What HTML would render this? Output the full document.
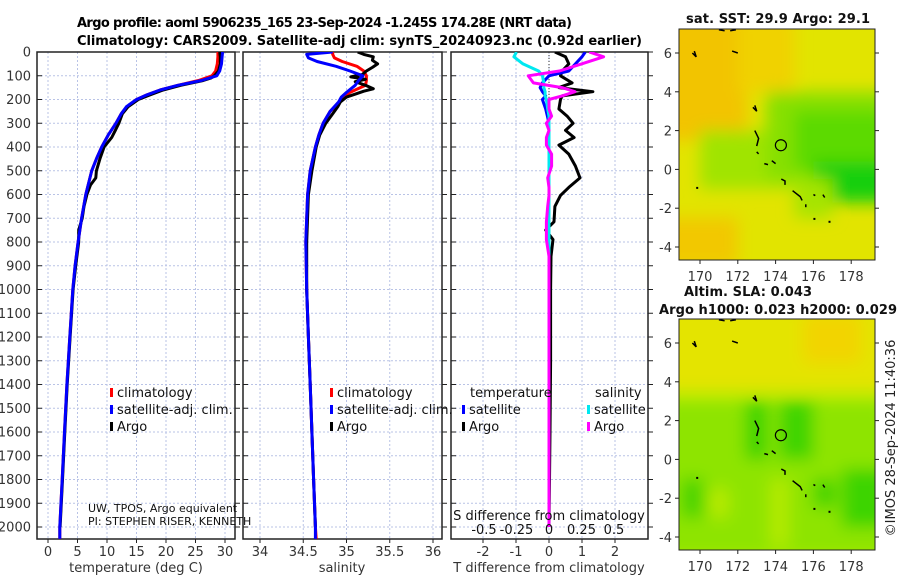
<!DOCTYPE html>
<html><head><meta charset="utf-8"><style>
html,body{margin:0;padding:0;background:#fff;}
svg{display:block;font-family:"DejaVu Sans","Liberation Sans",sans-serif;}
</style></head><body>
<svg id="fig" width="900" height="580" viewBox="0 0 900 580" xmlns="http://www.w3.org/2000/svg">
<defs>
<filter id="blur1" x="-50%" y="-50%" width="200%" height="200%"><feGaussianBlur stdDeviation="8"/></filter>
<clipPath id="clipMap1"><rect x="679" y="29" width="196" height="231"/></clipPath>
<clipPath id="clipMap2"><rect x="679" y="319" width="196" height="231"/></clipPath>
<clipPath id="clipP1"><rect x="37" y="52" width="198" height="487"/></clipPath>
<clipPath id="clipP2"><rect x="243" y="52" width="199" height="487"/></clipPath>
<clipPath id="clipP3"><rect x="451" y="52" width="197" height="487"/></clipPath>
</defs>
<text x="77" y="27" font-size="13" font-weight="bold" textLength="495">Argo profile: aoml 5906235_165 23-Sep-2024 -1.245S 174.28E (NRT data)</text>
<text x="77" y="45" font-size="13" font-weight="bold" textLength="565">Climatology: CARS2009. Satellite-adj clim: synTS_20240923.nc (0.92d earlier)</text>
<g id="layer"></g>
</svg>
<script>
// ---- profile data (depth in m) ----
const tDepth = [0,20,50,80,100,120,140,160,180,200,230,260,300,350,400,450,500,600,700,800,900,1000,1200,1400,1600,1800,2000,2050];
const tClim  = [28.8,28.8,28.7,28.4,27.8,25.5,22,19,16.8,15,13.4,12.4,11.5,10.2,9.1,8.2,7.4,6.4,5.7,5.1,4.6,4.2,3.7,3.2,2.8,2.4,2.0,2.0];
const tSat   = [29.6,29.5,29.4,29.1,28.6,26,22,19,16.8,15,13.3,12.4,11.5,10.2,9.1,8.2,7.4,6.4,5.7,5.1,4.6,4.2,3.7,3.2,2.8,2.4,2.0,2.0];
const argoTDepth = [0,20,50,80,100,110,120,140,160,180,200,230,260,300,330,360,400,450,500,530,560,600,650,700,750,800,900,1000,1200,1400,1600,1800,2000];
const argoT = [29.1,29.2,29.2,28.9,28.2,27.6,26.3,22.5,19.5,17.3,15.3,13.6,12.6,12.0,11.4,10.8,9.5,8.8,8.2,8.1,7.2,6.6,6.1,5.8,5.2,5.2,4.7,4.25,3.75,3.25,2.85,2.45,2.05];
const sDepth = [0,10,25,40,60,80,100,120,140,170,190,210,250,300,350,400,500,600,800,1000,1200,1400,1600,1800,2000,2050];
const sClim  = [34.84,34.84,34.86,34.95,35.12,35.2,35.23,35.23,35.22,35.04,34.96,34.92,34.81,34.73,34.68,34.64,34.58,34.55,34.53,34.54,34.56,34.58,34.6,34.62,34.64,34.65];
const sSat   = [34.84,34.54,34.56,34.66,34.88,35.04,35.19,35.14,35.10,35.0,34.94,34.91,34.81,34.73,34.68,34.64,34.58,34.55,34.53,34.54,34.56,34.58,34.6,34.62,34.64,34.64];
const argoSDepth = [0,10,20,35,50,65,80,95,105,115,125,140,155,165,175,190,210,230,260,300,350,400,500,600,800,1000,1200,1400,1600,1800,2000];
const argoS = [35.13,35.2,35.31,35.3,35.36,35.3,35.23,35.18,35.05,35.22,35.1,35.22,35.31,35.2,35.12,35.0,34.93,34.9,34.84,34.76,34.69,34.65,34.6,34.56,34.54,34.54,34.56,34.58,34.6,34.62,34.64];
// ---- difference data ----
const dDepth = [0,20,50,80,100,130,150,167,185,200,240,270,300,330,360,392,430,480,530,570,604,650,715,750,790,860,1000,1300,1600,2000];
const dTArgo = [0.18,0.5,0.6,0.4,0.35,0.7,0.3,1.33,0.4,0.35,0.3,0.55,0.73,0.5,0.76,0.3,0.6,0.8,0.94,0.6,0.35,0.18,0.15,-0.1,0.12,0.06,0.05,0.05,0.03,0.0];
const dTSat  = [1.1,1.0,0.8,0.6,0.0,-0.2,-0.27,-0.2,-0.1,-0.2,-0.1,-0.05,0,0,0,0,0,0,0,0,0,0,0,0,0,0,0,0,0,0];
const dSSat  = [-0.25,-0.27,-0.2,-0.08,-0.05,-0.04,-0.04,-0.03,-0.03,-0.02,-0.01,0,0,0,0,0,0,0,0,0,0,0,0,0,0,0,0,0,0,0];
const dSArgo = [0.31,0.42,0.25,0.08,-0.16,-0.12,0.1,0.2,0.1,0.0,0.0,0.02,-0.02,0.0,-0.02,-0.02,0.02,0.02,-0.01,0.0,0.0,-0.01,-0.02,-0.02,-0.02,0.0,0.0,0.0,0.0,0.0];
// ---- axis ticks ----
const depthTicks = [0,100,200,300,400,500,600,700,800,900,1000,1100,1200,1300,1400,1500,1600,1700,1800,1900,2000];
const tTicks = [0,5,10,15,20,25,30];
const sTicks = [34,34.5,35,35.5,36];
const sTickLabels = ["34","34.5","35","35.5","36"];
const dTTicks = [-2,-1,0,1,2];
const dSTicks = [-0.5,-0.25,0,0.25,0.5];
const dSTickLabels = ["-0.5","-0.25","0","0.25","0.5"];
const lonTicks = [170,172,174,176,178];
const latTicks = [6,4,2,0,-2,-4];
// ---- float position ----
const floatLon = [174.28];
const floatLat = [1.245];
// ---- map contour squiggles (lon,lat) ----
const coastLon = [[171.0,171.3],[171.6,171.9],[169.6,169.8,169.7],[171.7,172.0],[172.8,173.0,172.9],[172.9,173.1,173.0],[173.0,173.1],[173.4,173.6],[173.8,174.0],[174.3,174.5,174.5],[174.9,175.3,175.4],[175.6,175.6],[176.0,176.1],[176.5,176.6],[169.8],[176.0],[176.8]];
const coastLat = [[7.2,7.15],[7.15,7.2],[6.0,5.8,6.1],[6.1,6.0],[3.2,3.0,3.3],[2.0,1.6,1.2],[0.9,0.8],[0.3,0.25],[0.45,0.3],[-0.5,-0.6,-0.8],[-1.1,-1.4,-1.6],[-1.8,-1.95],[-1.3,-1.35],[-1.3,-1.45],[-0.9],[-2.5],[-2.65]];

const NS="http://www.w3.org/2000/svg";
const L=document.getElementById('layer');
function mk(tag,attrs,parent,txt){const e=document.createElementNS(NS,tag);for(const k in attrs)e.setAttribute(k,attrs[k]);if(txt!==undefined)e.textContent=txt;(parent||L).appendChild(e);return e;}
const depthTop=52, depthScale=23.75/100;
const yD=d=>depthTop+d*depthScale;
const FT=52, FH=487;
const P1={x0:37,x1:235};
const P2={x0:243,x1:442};
const P3={x0:451,x1:648};
const xT=v=>48+v*5.9;
const xS=v=>260+(v-34)*86.5;
const xDT=v=>549+v*33;
const xDS=v=>549+v*130;
const gridC="#b9c3e6";

function panel(P,xTickVals,xTickLbl,xf,name,xlabel,cx){
  const g=mk('g',{});
  
  
  depthTicks.forEach(d=>{
    const gl=mk('line',{x1:P.x0,x2:P.x1,y1:yD(d),y2:yD(d),stroke:gridC,'stroke-width':1,'stroke-dasharray':'2,2'},g);
    
    
    mk('line',{x1:P.x0,x2:P.x0+5,y1:yD(d),y2:yD(d),stroke:'#222'},g);
    mk('line',{x1:P.x1,x2:P.x1+5,y1:yD(d),y2:yD(d),stroke:'#222'},g);
  });
  xTickVals.forEach((v,i)=>{
    const x=xf(v);
    const gl=mk('line',{x1:x,x2:x,y1:FT,y2:FT+FH,stroke:gridC,'stroke-width':1,'stroke-dasharray':'2,2'},g);
    
    
    mk('line',{x1:x,x2:x,y1:539,y2:543,stroke:'#222'},g);
    const t=mk('text',{x:x,y:556,'font-size':13,'text-anchor':'middle',fill:'#333'},g,xTickLbl[i]);
    
    
  });
  const r=mk('rect',{x:P.x0,y:FT,width:P.x1-P.x0,height:FH,fill:'none',stroke:'#222','stroke-width':1.5},g);
  
  
  const xl=mk('text',{x:cx,y:572,'font-size':13,'text-anchor':'middle',fill:'#333'},g,xlabel);
  
  
  return g;
}
panel(P1,tTicks,tTicks.map(String),xT,'temperature-panel','temperature (deg C)',136);
panel(P2,sTicks,sTickLabels,xS,'salinity-panel','salinity',342);
panel(P3,dTTicks,dTTicks.map(String),xDT,'difference-panel','T difference from climatology',549);
depthTicks.forEach(d=>{
  const t=mk('text',{x:31,y:yD(d)+4.5,'font-size':13,'text-anchor':'end',fill:'#333'},L,String(d));
  
  
});
function line(xs,ds,xf,color,w,clip,name){
  const pts=xs.map((v,i)=>xf(v).toFixed(1)+','+yD(ds[i]).toFixed(1)).join(' ');
  const p=mk('polyline',{points:pts,fill:'none',stroke:color,'stroke-width':w,'stroke-linejoin':'round','clip-path':'url(#'+clip+')'});
  
  
}
line(tClim,tDepth,xT,'#ff0000',3,'clipP1','temp-climatology-line');
line(argoT,argoTDepth,xT,'#000',3,'clipP1','temp-argo-line');
line(tSat,tDepth,xT,'#0000ff',3,'clipP1','temp-satellite-line');
line(sClim,sDepth,xS,'#ff0000',3,'clipP2','sal-climatology-line');
line(argoS,argoSDepth,xS,'#000',3,'clipP2','sal-argo-line');
line(sSat,sDepth,xS,'#0000ff',3,'clipP2','sal-satellite-line');
mk('line',{x1:549,x2:549,y1:52,y2:110,stroke:'#333','stroke-dasharray':'1,2'});
line(dTArgo,dDepth,xDT,'#000',3,'clipP3','tdiff-argo-line');
line(dTSat,dDepth,xDT,'#0000ff',3,'clipP3','tdiff-satellite-line');
line(dSSat,dDepth,xDS,'#00e8f0',3,'clipP3','sdiff-satellite-line');
line(dSArgo,dDepth,xDS,'#ff00ff',3,'clipP3','sdiff-argo-line');

function legendEntry(x,y,color,label,name){
  const g=mk('g',{});
  
  
  mk('rect',{x:x,y:y-9,width:3,height:9,fill:color},g);
  mk('text',{x:x+7,y:y,'font-size':13,fill:'#111'},g,label);
}
legendEntry(110,397,'#ff0000','climatology','legend-t-climatology');
legendEntry(110,414,'#0000ff','satellite-adj. clim.','legend-t-satellite');
legendEntry(110,431,'#000','Argo','legend-t-argo');
legendEntry(330,397,'#ff0000','climatology','legend-s-climatology');
legendEntry(330,414,'#0000ff','satellite-adj. clim.','legend-s-satellite');
legendEntry(330,431,'#000','Argo','legend-s-argo');
let t=mk('text',{x:470,y:397,'font-size':13,fill:'#111'},L,'temperature');

t=mk('text',{x:595,y:397,'font-size':13,fill:'#111'},L,'salinity');

legendEntry(462,414,'#0000ff','satellite','legend-tdiff-satellite');
legendEntry(462,431,'#000','Argo','legend-tdiff-argo');
legendEntry(587,414,'#00e8f0','satellite','legend-sdiff-satellite');
legendEntry(587,431,'#ff00ff','Argo','legend-sdiff-argo');
t=mk('text',{x:88,y:512,'font-size':11,fill:'#111'},L,'UW, TPOS, Argo equivalent');

t=mk('text',{x:88,y:525,'font-size':11,fill:'#111'},L,'PI: STEPHEN RISER, KENNETH');

t=mk('text',{x:549,y:520,'font-size':13,'text-anchor':'middle',fill:'#111'},L,'S difference from climatology');

dSTicks.forEach((v,i)=>{
  const tt=mk('text',{x:xDS(v),y:534,'font-size':13,'text-anchor':'middle',fill:'#111'},L,dSTickLabels[i]);
  
  
});

// ---- maps ----
const mapX=lon=>700+(lon-170)*18.9;
function mapFrame(top,name,blobs,base){
  const bot=top+231;
  const yL=lat=>top+24+(6-lat)*19.4;
  const g=mk('g',{});
  
  
  const cg=mk('g',{'clip-path':'url(#'+(top<100?'clipMap1':'clipMap2')+')'},g);
  mk('rect',{x:679,y:top,width:196,height:231,fill:base},cg);
  const bg=mk('g',{filter:'url(#blur1)'},cg);
  blobs.forEach(b=>{mk('rect',{x:mapX(b[0]),y:yL(b[3]),width:(b[1]-b[0])*18.9,height:(b[3]-b[2])*19.4,fill:b[4]},bg);});
  coastLon.forEach((ln,i)=>{
    const pts=ln.map((lo,j)=>mapX(lo).toFixed(1)+','+yL(coastLat[i][j]).toFixed(1));
    if(pts.length===1){const p=pts[0].split(',');mk('rect',{x:p[0],y:p[1],width:2,height:2,fill:'#000'},cg);}
    else mk('polyline',{points:pts.join(' '),fill:'none',stroke:'#000','stroke-width':1.5},cg);
  });
  const c=mk('circle',{cx:mapX(floatLon[0]),cy:yL(floatLat[0]),r:5.5,fill:'none',stroke:'#000','stroke-width':1.2},g);
  
  
  mk('rect',{x:679,y:top,width:196,height:231,fill:'none',stroke:'#222','stroke-width':1},g);
  lonTicks.forEach(lo=>{
    mk('line',{x1:mapX(lo),x2:mapX(lo),y1:bot,y2:bot+4,stroke:'#222'},g);
    const tt=mk('text',{x:mapX(lo),y:bot+21,'font-size':13,'text-anchor':'middle',fill:'#333'},g,String(lo));
    
    
  });
  latTicks.forEach(la=>{
    mk('line',{x1:675,x2:679,y1:yL(la),y2:yL(la),stroke:'#222'},g);
    mk('line',{x1:875,x2:879,y1:yL(la),y2:yL(la),stroke:'#222'},g);
    const tt=mk('text',{x:672,y:yL(la)+5,'font-size':13,'text-anchor':'end',fill:'#333'},g,String(la));
    
    
  });
}
const blobs1=[[168,172.5,1.5,8,'#f2c400'],[172,175,4,8,'#f0d200'],[168,172,-5,-2.5,'#f2c800'],[170,176,-1,2,'#a0e400'],[173.5,180,-0.5,4,'#86e000'],[175,180,0,3,'#5cda00'],[176,180,-1.7,0.4,'#14cf10'],[175,177,-2.5,-0.5,'#a6e400']];
const blobs2=[[168,180,3.5,8,'#e4e400'],[175.5,178.5,5,7.5,'#f2d400'],[168,180,-5,3,'#8ee400'],[172.4,173.6,0,3,'#3ed400'],[174.2,176,0,3,'#40d400'],[169,170.2,-3,-1,'#48d400'],[176,177.2,-2.5,-1,'#44d400'],[177.5,180,-3.5,-0.5,'#3cd400'],[170.5,171.5,-3,-1.5,'#b8ea00'],[173.7,174.7,-4.5,-1,'#b4ea00']];
mapFrame(29,'sst-map',blobs1,'#e2e400');
mapFrame(319,'sla-map',blobs2,'#b6ec00');
t=mk('text',{x:686,y:23,'font-size':13,'font-weight':'bold',textLength:184,fill:'#111'},L,'sat. SST: 29.9 Argo: 29.1');

t=mk('text',{x:684,y:296,'font-size':13,'font-weight':'bold',textLength:128,fill:'#111'},L,'Altim. SLA: 0.043');

t=mk('text',{x:659,y:314,'font-size':13,'font-weight':'bold',textLength:238,fill:'#111'},L,'Argo h1000: 0.023 h2000: 0.029');

t=mk('text',{x:0,y:0,'font-size':13,'text-anchor':'middle',fill:'#222',transform:'translate(895,438) rotate(-90)'},L,'©IMOS 28-Sep-2024 11:40:36');

</script>
</body></html>
